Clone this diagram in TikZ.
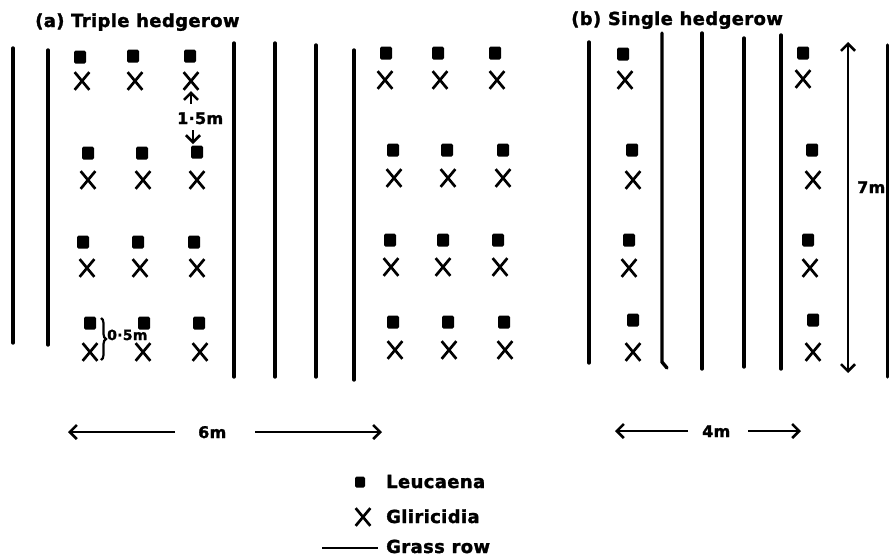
\documentclass[tikz,border=0pt]{standalone}
\usepackage{fontspec}
\setmainfont{DejaVu Sans}
\newfontfamily\lbl{DejaVu Sans}[LetterSpace=2, BoldFeatures={FakeBold=1.5}]
\usetikzlibrary{arrows.meta,shapes.misc,decorations.pathreplacing}
\tikzset{
 grass/.style={line width=3.4pt, line cap=round},
 leuc/.style={fill=black, rounded corners=1.5pt, minimum width=12pt, minimum height=13pt, inner sep=0pt},
 glir/.style={cross out, draw=black, line width=2.7pt, minimum width=12pt, minimum height=15pt, inner sep=0pt},
 barb/.tip={Straight Barb[length=7pt,width=14pt,line width=2.6pt]},
 dimline/.style={line width=2.6pt},
 big/.style={font=\lbl\bfseries\fontsize{18}{21}\selectfont, inner sep=0pt, anchor=base west},
 num/.style={font=\lbl\bfseries\fontsize{16}{19}\selectfont, inner sep=0pt, anchor=base west},
}
\begin{document}
\begin{tikzpicture}[x=1pt,y=-1pt]
\useasboundingbox (0,0) rectangle (889,558);
\fill[white] (0,0) rectangle (889,558);
% titles
\node[big] (ta) at (35,27) {(a) Triple hedgerow};
\node[big] (tb) at (571,25) {(b) Single hedgerow};
% grass rows (a)
\draw[grass] (13,48) -- (13,343);
\draw[grass] (48,50) -- (48,345);
\draw[grass] (234,43) -- (234,377);
\draw[grass] (275,43) -- (275,377);
\draw[grass] (316,45) -- (316,377);
\draw[grass] (354,50) -- (354,380);
% grass rows (b)
\draw[grass] (589,42) -- (589,363);
\draw[grass] (662,33) -- (662,362) -- (667,368);
\draw[grass] (702,33) -- (702,369);
\draw[grass] (744,38) -- (744,367);
\draw[grass] (781,35) -- (781,369);
\draw[grass] (887.3,45) -- (887.3,377);
% Leucaena
\foreach \px/\py/\n in {80/57/la11,133/56/la12,190/56/la13,
  88/153/la21,142/153/la22,197/152/la23,
  83/242/la31,138/242/la32,194/242/la33,
  90/323/la41,144/323/la42,199/323/la43,
  386/53/lr11,438/53/lr12,495/53/lr13,
  393/150/lr21,447/150/lr22,503/150/lr23,
  390/240/lr31,443/240/lr32,498/240/lr33,
  393/322/lr41,448/322/lr42,504/322/lr43,
  623/54/lb11,632/150/lb21,629/240/lb31,633/320/lb41,
  803/53/lb12,812/150/lb22,808/240/lb32,813/320/lb42}
  {\node[leuc] (\n) at (\px,\py) {};}
% Gliricidia
\foreach \px/\py/\n in {82/81/ga11,135/81/ga12,191/81/ga13,
  88/180/ga21,143/180/ga22,197/180/ga23,
  87/268/ga31,140/268/ga32,197/268/ga33,
  90/352/ga41,143/352/ga42,200/352/ga43,
  385/80/gr11,440/80/gr12,497/80/gr13,
  394/178/gr21,448/178/gr22,503/178/gr23,
  391/267/gr31,443/267/gr32,500/267/gr33,
  395/350/gr41,449/350/gr42,505/350/gr43,
  625/80/gb11,633/180/gb21,629/268/gb31,633/352/gb41,
  803/79/gb12,813/180/gb22,810/268/gb32,813/352/gb42}
  {\node[glir] (\n) at (\px,\py) {};}
% 1.5 m
\node[num] (l15) at (177,124) {1·5m};
\coordinate (u1) at (191,104);
\coordinate (u2) at (191,91);
\coordinate (d1) at (193,130);
\coordinate (d2) at (193,144);
\draw[dimline,-barb] (u1) -- (u2);
\draw[dimline,-barb] (d1) -- (d2);
% 0.5 m
\coordinate (b1) at (101,318);
\coordinate (b2) at (101,360);
\draw[line width=2.2pt, decorate, decoration={brace, amplitude=5pt}] (b1) -- (b2);
\node[num, font=\lbl\bfseries\fontsize{14}{16}\selectfont] (l05) at (107,340) {0·5m};
% 6 m
\node[num] (l6) at (198,438) {6m};
\coordinate (s6a) at (175,432); \coordinate (s6b) at (68,432);
\coordinate (s6c) at (255,432); \coordinate (s6d) at (382,432);
\draw[dimline,-barb] (s6a) -- (s6b);
\draw[dimline,-barb] (s6c) -- (s6d);
% 4 m
\node[num] (l4) at (702,437) {4m};
\coordinate (s4a) at (688,431); \coordinate (s4b) at (615,431);
\coordinate (s4c) at (748,431); \coordinate (s4d) at (801,431);
\draw[dimline,-barb] (s4a) -- (s4b);
\draw[dimline,-barb] (s4c) -- (s4d);
% 7 m
\coordinate (s7a) at (848,42); \coordinate (s7b) at (848,373);
\draw[dimline,barb-barb] (s7a) -- (s7b);
\node[num] (l7) at (857,193) {7m};
% legend
\node[leuc, minimum width=10pt, minimum height=11pt] (kl) at (360,482) {};
\node[big] (tl) at (386,488) {Leucaena};
\node[glir] (kg) at (363,517) {};
\node[big] (tg) at (386,523) {Gliricidia};
\coordinate (kr1) at (322,548); \coordinate (kr2) at (378,548);
\draw[dimline] (kr1) -- (kr2);
\node[big] (tr) at (386,553) {Grass row};
\end{tikzpicture}
\end{document}
